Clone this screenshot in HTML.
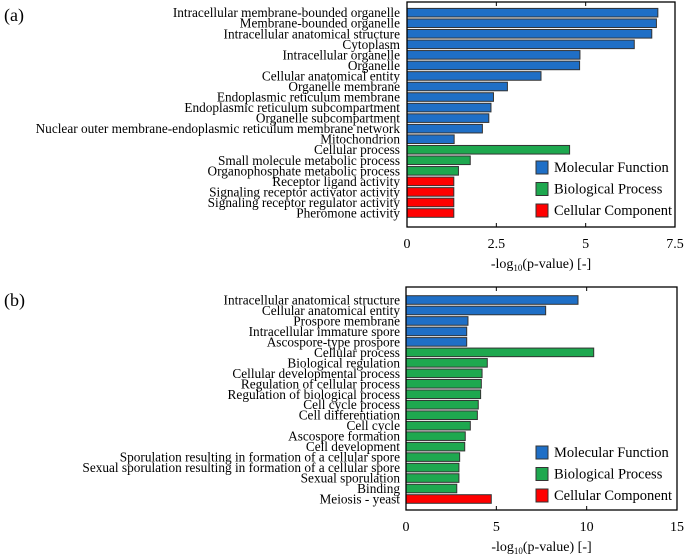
<!DOCTYPE html>
<html><head><meta charset="utf-8"><style>
body{margin:0;background:#fff}
svg{display:block}
svg text{font-family:"Liberation Serif",serif}
</style></head><body>
<svg id="c" width="685" height="560"></svg>
<script>
const catsA=["Intracellular membrane-bounded organelle","Membrane-bounded organelle","Intracellular anatomical structure","Cytoplasm","Intracellular organelle","Organelle","Cellular anatomical entity","Organelle membrane","Endoplasmic reticulum membrane","Endoplasmic reticulum subcompartment","Organelle subcompartment","Nuclear outer membrane-endoplasmic reticulum membrane network","Mitochondrion","Cellular process","Small molecule metabolic process","Organophosphate metabolic process","Receptor ligand activity","Signaling receptor activator activity","Signaling receptor regulator activity","Pheromone activity"];
const valsA=[7.02,6.98,6.85,6.36,4.84,4.83,3.75,2.81,2.42,2.35,2.29,2.11,1.32,4.55,1.77,1.44,1.31,1.31,1.31,1.31];
const grpA=[0,0,0,0,0,0,0,0,0,0,0,0,0,1,1,1,2,2,2,2];
const ticksA=["0","2.5","5","7.5"];
const catsB=["Intracellular anatomical structure","Cellular anatomical entity","Prospore membrane","Intracellular immature spore","Ascospore-type prospore","Cellular process","Biological regulation","Cellular developmental process","Regulation of cellular process","Regulation of biological process","Cell cycle process","Cell differentiation","Cell cycle","Ascospore formation","Cell development","Sporulation resulting in formation of a cellular spore","Sexual sporulation resulting in formation of a cellular spore","Sexual sporulation","Binding","Meiosis - yeast"];
const valsB=[9.52,7.73,3.43,3.36,3.36,10.39,4.5,4.21,4.17,4.13,4.0,3.95,3.56,3.28,3.25,2.97,2.93,2.93,2.81,4.72];
const grpB=[0,0,0,0,0,1,1,1,1,1,1,1,1,1,1,1,1,1,1,2];
const ticksB=["0","5","10","15"];
const legendNames=["Molecular Function","Biological Process","Cellular Component"];
const colors=["#1f6fc6","#1ea84f","#ff0000"];
const NS="http://www.w3.org/2000/svg",svg=document.getElementById('c');
function mk(t,a,p){const e=document.createElementNS(NS,t);for(const k in a)e.setAttribute(k,a[k]);(p||svg).appendChild(e);return e;}
function panel(id,label,cats,vals,grp,ticks,max,x0,x1,top,bot,y0,yN,legY){
  const g=mk('g',{});
  
  
  const sx=v=>x0+(v/max)*(x1-x0);
  const pitch=(yN-y0)/(cats.length-1);
  const pl=mk('text',{x:4,y:top+19,'font-size':18},g);pl.textContent=label;
  
  cats.forEach((c,i)=>{
    const y=y0+i*pitch;
    const r=mk('rect',{x:x0,y:y-4.3,width:sx(vals[i])-x0,height:8.6,fill:colors[grp[i]],stroke:'#333','stroke-width':1},g);
    
    const t=mk('text',{x:400,y:y+4.5,'text-anchor':'end','font-size':13.3},g);t.textContent=c;
    
  });
  const b=mk('rect',{x:x0,y:top,width:x1-x0,height:bot-top,fill:'none',stroke:'#000','stroke-width':1.3},g);
  
  ticks.forEach((tk,i)=>{
    const x=x0+i*(x1-x0)/(ticks.length-1);
    mk('line',{x1:x,x2:x,y1:top,y2:top+4,stroke:'#000'},g);
    mk('line',{x1:x,x2:x,y1:bot,y2:bot-4,stroke:'#000'},g);
    const t=mk('text',{x:x,y:bot+21,'text-anchor':'middle','font-size':14},g);t.textContent=tk;
    
  });
  const at=mk('text',{x:(x0+x1)/2,y:bot+41,'text-anchor':'middle','font-size':14},g);
  at.innerHTML='-log<tspan font-size="9" dy="3">10</tspan><tspan dy="-3">(p-value) [-]</tspan>';
  
  legendNames.forEach((n,i)=>{
    const y=legY+i*21.5;
    const s=mk('rect',{x:536,y:y-6,width:12,height:13,fill:colors[i],stroke:'#333'},g);
    
    const t=mk('text',{x:554,y:y+5,'font-size':14.5},g);t.textContent=n;
    
  });
}
panel('a','(a)',catsA,valsA,grpA,ticksA,7.5,407,675,2,227,12.7,213,167);
panel('b','(b)',catsB,valsB,grpB,ticksB,15,406,677,287,510,300,499,452);
</script>
</body></html>
